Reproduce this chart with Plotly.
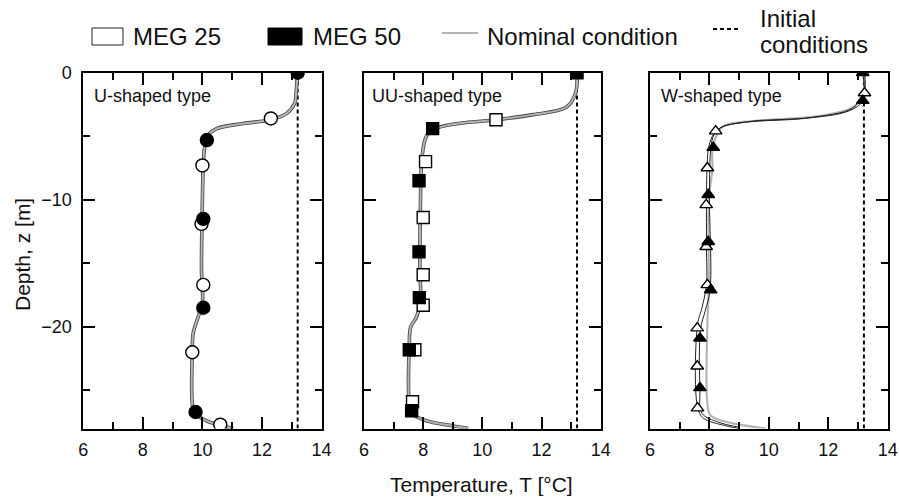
import plotly.graph_objects as go

W, H = 899, 502
FONT = "Liberation Sans, Arial, sans-serif"

# ---------------- data ----------------
initial_T = 13.2
depth_range = [-28, 0]

# U-shaped type
u_meg25_T = [12.3, 10.0, 9.97, 10.03, 9.66, 10.6]
u_meg25_z = [-3.6, -7.3, -11.9, -16.7, -22.0, -27.7]
u_meg50_T = [13.2, 10.15, 10.03, 10.03, 9.77]
u_meg50_z = [0.0, -5.3, -11.5, -18.5, -26.7]
u_nom_z = [0, -0.6, -1.5, -2.4, -3.2, -3.7, -4.0, -4.4, -4.9, -5.8, -7.3, -10, -15.5,
           -18.1, -19.2, -20.5, -22, -26, -26.8, -27.4, -27.75, -28]
u_nom_T = [13.2, 13.18, 13.15, 13.1, 12.83, 12.29, 11.37, 10.48, 10.2, 10.08, 10.03, 10.0,
           9.97, 10.0, 9.86, 9.69, 9.66, 9.66, 9.75, 10.14, 10.59, 11.03]

# UU-shaped type
uu_meg25_T = [10.46, 8.08, 8.0, 8.0, 8.0, 7.72, 7.64]
uu_meg25_z = [-3.7, -7.0, -11.4, -15.9, -18.3, -21.8, -25.9]
uu_meg50_T = [13.2, 8.32, 7.86, 7.86, 7.87, 7.53, 7.61]
uu_meg50_z = [0.0, -4.4, -8.5, -14.1, -17.7, -21.8, -26.6]
uu_nom_z = [0, -1.6, -2.7, -3.3, -3.7, -4.1, -4.6, -5.3, -6.9, -10, -15.5, -18.1, -19.2,
            -20, -21.5, -26, -26.8, -27.4, -27.75, -28]
uu_nom_T = [13.2, 13.15, 12.85, 11.72, 10.46, 8.9, 8.23, 8.06, 7.95, 7.91, 7.89, 7.91,
            7.78, 7.58, 7.53, 7.53, 7.61, 8.12, 8.9, 9.52]

# W-shaped type
w_meg25_T = [13.22, 8.21, 7.93, 7.89, 7.89, 7.93, 7.59, 7.59, 7.6]
w_meg25_z = [-1.6, -4.6, -7.5, -10.4, -13.7, -16.7, -20.1, -23.1, -26.4]
w_meg50_T = [13.16, 13.16, 8.13, 7.96, 7.96, 8.04, 7.68, 7.68]
w_meg50_z = [0.0, -2.2, -5.9, -9.6, -13.3, -17.1, -20.9, -24.8]
w_nom_z = [0, -1.5, -2.7, -3.4, -3.8, -4.2, -4.9, -6.0, -7.5, -10, -17, -18.5, -20, -26,
           -27, -27.6, -28]
w_nom_T = [13.2, 13.2, 12.85, 11.72, 9.48, 8.47, 8.25, 8.1, 8.1, 7.98, 7.98, 7.95, 7.93,
           7.93, 8.05, 8.8, 9.9]
w_sim25_z = [0, -1.6, -2.8, -3.5, -3.85, -4.3, -4.8, -5.8, -7.5, -13.7, -16.7, -18.5,
             -19.8, -26.3, -27.2, -27.7, -28]
w_sim25_T = [13.22, 13.2, 12.8, 11.5, 9.3, 8.4, 8.15, 7.98, 7.92, 7.9, 7.9, 7.75, 7.6,
             7.6, 7.8, 8.4, 9.0]
w_sim50_z = [0, -2.2, -3.0, -3.6, -3.9, -4.3, -4.9, -5.9, -9.6, -17.1, -18.8, -20.2,
             -24.8, -26.8, -27.5, -27.9]
w_sim50_T = [13.16, 13.16, 12.7, 11.2, 9.2, 8.4, 8.15, 8.05, 8.0, 8.02, 7.85, 7.7, 7.68,
             7.75, 8.3, 9.0]

panel_names = ["U-shaped type", "UU-shaped type", "W-shaped type"]
x_ticks = [6, 8, 10, 12, 14]
y_ticks = [0, -10, -20]

# ---------------- layout helpers ----------------
def px(x):
    return x / W

def py(y):
    return 1 - y / H

x_domains = [[px(83.3), px(321.5)], [px(364), px(600.7)], [px(650), px(887.7)]]
y_domain = [py(428.5), py(72.7)]

fig = go.Figure()

panels = [
    dict(meg25=(u_meg25_T, u_meg25_z), meg50=(u_meg50_T, u_meg50_z),
         nom=(u_nom_T, u_nom_z), sims=[], sym="circle", size=13),
    dict(meg25=(uu_meg25_T, uu_meg25_z), meg50=(uu_meg50_T, uu_meg50_z),
         nom=(uu_nom_T, uu_nom_z), sims=[], sym="square", size=12),
    dict(meg25=(w_meg25_T, w_meg25_z), meg50=(w_meg50_T, w_meg50_z),
         nom=(w_nom_T, w_nom_z),
         sims=[(w_sim25_T, w_sim25_z), (w_sim50_T, w_sim50_z)],
         sym="triangle-up", size=11),
]

for i, p in enumerate(panels):
    xa = "x" if i == 0 else f"x{i+1}"
    ya = "y" if i == 0 else f"y{i+1}"
    # initial condition (dashed)
    fig.add_trace(go.Scatter(x=[initial_T, initial_T], y=depth_range, mode="lines",
                             line=dict(color="black", width=2, dash="4px,3px"),
                             xaxis=xa, yaxis=ya, showlegend=False, hoverinfo="skip"))
    nT, nz = p["nom"]
    if p["sims"]:
        fig.add_trace(go.Scatter(x=nT, y=nz, mode="lines",
                                 line=dict(color="#b4b4b4", width=2.2, shape="spline"),
                                 xaxis=xa, yaxis=ya, showlegend=False))
        for sT, sz in p["sims"]:
            fig.add_trace(go.Scatter(x=sT, y=sz, mode="lines",
                                     line=dict(color="#222222", width=1, shape="spline"),
                                     xaxis=xa, yaxis=ya, showlegend=False))
    else:
        fig.add_trace(go.Scatter(x=nT, y=nz, mode="lines",
                                 line=dict(color="#444444", width=3.6, shape="spline"),
                                 xaxis=xa, yaxis=ya, showlegend=False))
        fig.add_trace(go.Scatter(x=nT, y=nz, mode="lines",
                                 line=dict(color="#b4b4b4", width=2.0, shape="spline"),
                                 xaxis=xa, yaxis=ya, showlegend=False))
    oT, oz = p["meg25"]
    fig.add_trace(go.Scatter(x=oT, y=oz, mode="markers",
                             marker=dict(symbol=p["sym"], size=p["size"], color="white",
                                         line=dict(color="black", width=1.4)),
                             xaxis=xa, yaxis=ya, showlegend=False))
    fT, fz = p["meg50"]
    fig.add_trace(go.Scatter(x=fT, y=fz, mode="markers",
                             marker=dict(symbol=p["sym"], size=p["size"], color="black",
                                         line=dict(color="black", width=1.4)),
                             xaxis=xa, yaxis=ya, showlegend=False))

axis_common = dict(showgrid=False, zeroline=False, showline=True, linecolor="black",
                   linewidth=2, mirror="ticks", ticks="inside", tickwidth=2,
                   automargin=False,
                   tickcolor="black", tickfont=dict(family=FONT, size=18, color="#111"))

layout = dict(width=W, height=H, margin=dict(l=0, r=0, t=0, b=0, autoexpand=False),
              paper_bgcolor="white", plot_bgcolor="white", showlegend=False,
              font=dict(family=FONT, color="#111"))

for i in range(3):
    xk = "xaxis" if i == 0 else f"xaxis{i+1}"
    yk = "yaxis" if i == 0 else f"yaxis{i+1}"
    layout[xk] = dict(axis_common, domain=x_domains[i], range=[6, 14],
                      tickvals=x_ticks, ticklen=12, ticklabelstandoff=4,
                      minor=dict(dtick=1, tick0=6, ticks="inside", ticklen=7,
                                 tickwidth=2, tickcolor="black"),
                      anchor="y" if i == 0 else f"y{i+1}")
    layout[yk] = dict(axis_common, domain=y_domain, range=depth_range,
                      tickvals=y_ticks, ticklen=12, showticklabels=(i == 0),
                      ticklabelstandoff=6,
                      minor=dict(dtick=5, tick0=0, ticks="inside", ticklen=7,
                                 tickwidth=2, tickcolor="black"),
                      anchor="x" if i == 0 else f"x{i+1}")

fig.update_layout(**layout)

annotations = []
label_x = [92, 370, 659]
for i, name in enumerate(panel_names):
    annotations.append(dict(text=name, x=px(label_x[i]), y=py(96), xref="paper",
                            yref="paper", xanchor="left", yanchor="middle",
                            showarrow=False, font=dict(family=FONT, size=18, color="#111")))

annotations.append(dict(text="Temperature, T [°C]", x=px(481), y=py(484), xref="paper",
                        yref="paper", xanchor="center", yanchor="middle", showarrow=False,
                        font=dict(family=FONT, size=21, color="#111")))
annotations.append(dict(text="Depth, z [m]", x=px(22), y=py(255), xref="paper",
                        yref="paper", xanchor="center", yanchor="middle", showarrow=False,
                        textangle=-90, font=dict(family=FONT, size=21, color="#111")))

# manual legend
LF = 24
legend_items = [("MEG 25", 131, 36), ("MEG 50", 311, 36), ("Nominal condition", 485, 36),
                ("Initial", 758, 19), ("conditions", 758, 44)]
for txt, lx, ly in legend_items:
    annotations.append(dict(text=txt, x=px(lx), y=py(ly), xref="paper", yref="paper",
                            xanchor="left", yanchor="middle", showarrow=False,
                            font=dict(family=FONT, size=LF, color="#111")))

shapes = [
    dict(type="rect", xref="paper", yref="paper", x0=px(92), x1=px(123), y0=py(45),
         y1=py(28), line=dict(color="#222", width=1), fillcolor="white"),
    dict(type="rect", xref="paper", yref="paper", x0=px(268), x1=px(302), y0=py(45),
         y1=py(28), line=dict(color="black", width=1), fillcolor="black"),
    dict(type="line", xref="paper", yref="paper", x0=px(442), x1=px(478), y0=py(33),
         y1=py(33), line=dict(color="#b4b4b4", width=2)),
    dict(type="line", xref="paper", yref="paper", x0=px(713), x1=px(740), y0=py(29),
         y1=py(29), line=dict(color="black", width=2, dash="4px,3px")),
]

fig.update_layout(annotations=annotations, shapes=shapes)
fig.write_html("out.html", config={"displayModeBar": False},
               post_script="document.body.style.margin='0';document.body.style.overflow='hidden';")
